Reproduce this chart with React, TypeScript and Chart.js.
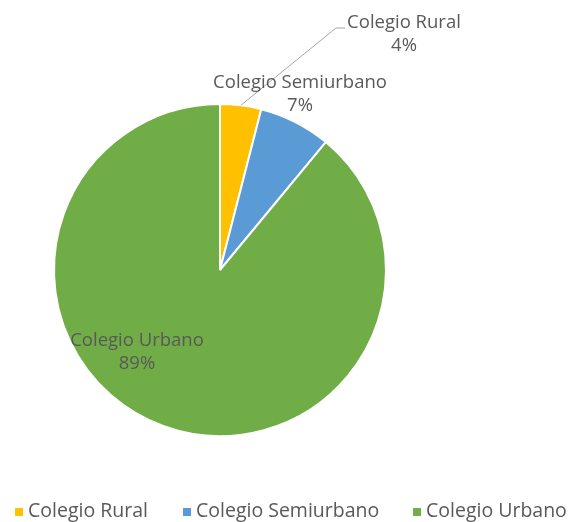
import React, { useEffect, useRef } from "react";
import { Chart, registerables } from "chart.js";

Chart.register(...registerables);

const categories = ["Colegio Rural", "Colegio Semiurbano", "Colegio Urbano"];
const values = [4, 7, 89];
const percentLabels = ["4%", "7%", "89%"];
const colors = ["#FFC000", "#5B9BD5", "#70AD47"];

const LABEL_FONT = "18.5px 'Open Sans', 'Liberation Sans', sans-serif";
const LEGEND_FONT = "19.5px 'Open Sans', 'Liberation Sans', sans-serif";
const TEXT = "#595959";

const overlayPlugin = {
  id: "overlay",
  afterDatasetsDraw(chart: any) {
    const ctx = chart.ctx;
    const meta = chart.getDatasetMeta(0);
    const arc0 = meta.data[0];
    const cx = arc0.x;
    const cy = arc0.y;
    const r = arc0.outerRadius;
    ctx.save();
    const mid = (arc0.startAngle + arc0.endAngle) / 2;
    const sx = cx + Math.cos(mid) * r;
    const sy = cy + Math.sin(mid) * r;
    ctx.strokeStyle = "#A6A6A6";
    ctx.lineWidth = 1;
    ctx.beginPath();
    ctx.moveTo(sx, sy);
    ctx.lineTo(cx + 116, cy - 242);
    ctx.lineTo(cx + 125, cy - 242);
    ctx.stroke();

    const offsets = [
      [184, -247],
      [80, -187],
      [-83, 71],
    ];
    ctx.font = LABEL_FONT;
    ctx.fillStyle = TEXT;
    ctx.textAlign = "center";
    ctx.textBaseline = "middle";
    categories.forEach((c, i) => {
      const [dx, dy] = offsets[i];
      ctx.fillText(c, cx + dx, cy + dy);
      ctx.fillText(percentLabels[i], cx + dx, cy + dy + 23);
    });

    const legendX = [15, 183, 413];
    const ly = 511;
    ctx.font = LEGEND_FONT;
    ctx.textAlign = "left";
    categories.forEach((c, i) => {
      ctx.fillStyle = colors[i];
      ctx.fillRect(legendX[i], ly - 3, 8, 8);
      ctx.fillStyle = TEXT;
      ctx.fillText(c, legendX[i] + 13, ly);
    });
    ctx.restore();
  },
};

export default function App() {
  const ref = useRef<HTMLCanvasElement>(null);
  useEffect(() => {
    document.body.style.margin = "0";
    const chart = new Chart(ref.current!, {
      type: "pie",
      data: {
        labels: categories,
        datasets: [
          {
            data: values,
            backgroundColor: colors,
            borderColor: "#FFFFFF",
            borderWidth: 2,
          },
        ],
      },
      options: {
        animation: false,
        responsive: false,
        maintainAspectRatio: false,
        layout: { padding: { left: 53, top: 103, right: 183, bottom: 85 } },
        plugins: {
          legend: { display: false },
          tooltip: { enabled: false },
        },
      },
      plugins: [overlayPlugin],
    });
    return () => chart.destroy();
  }, []);
  return (
    <div style={{ width: 570, height: 522, background: "#fff" }}>
      <canvas ref={ref} width={570} height={522} style={{ display: "block" }} />
    </div>
  );
}
